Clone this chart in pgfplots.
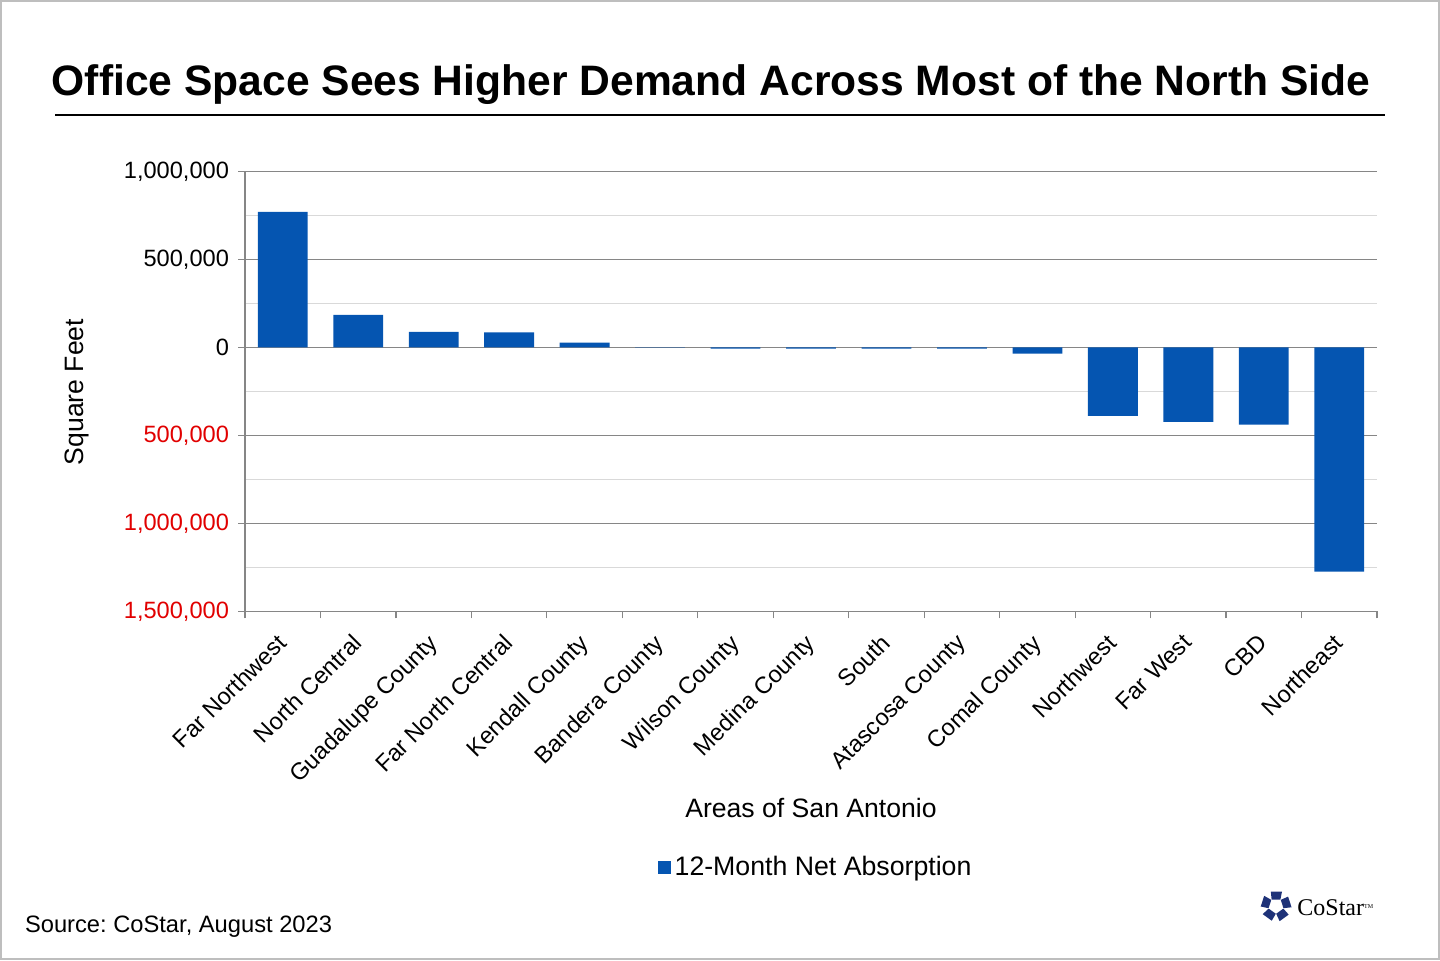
\documentclass[border=0pt]{standalone}
\usepackage{pgfplots}
\pgfplotsset{compat=1.18}
\usepackage{fontspec}
\setmainfont{Liberation Sans}
\newfontfamily\seriff{Liberation Serif}
\definecolor{barblue}{RGB}{5,85,177}
\definecolor{tickred}{RGB}{225,0,0}
\definecolor{axgray}{RGB}{134,134,134}
\definecolor{mingray}{RGB}{217,217,217}
\definecolor{logoblue}{RGB}{30,50,120}
\pgfplotstableread{
x y
0 769000
1 184000
2 87000
3 85000
4 26000
5 -2000
6 -8000
7 -8000
8 -8000
9 -8000
10 -36000
11 -389000
12 -424000
13 -440000
14 -1275000
}\datatable
\frenchspacing
\begin{document}
\begin{tikzpicture}[x=1pt,y=1pt]
\path[use as bounding box] (0,0) rectangle (720,480);
\draw[mingray!70!gray, line width=1pt] (0.5,0.5) rectangle (719.5,479.5);
\node[font=\fontsize{21.3}{25}\selectfont\bfseries] at (355.5,437.5) {Office Space Sees Higher Demand Across Most of the North Side};
\draw[line width=1pt] (27.5,422.5) -- (692.5,422.5);
\begin{axis}[
  at={(122.5pt,174.35pt)}, anchor=south west,
  scale only axis, width=566pt, height=220pt,
  xmin=-0.5, xmax=14.5, ymin=-1500000, ymax=1000000,
  axis lines=left,
  axis line style={-, axgray, line width=0.6pt},
  tick align=outside,
  ytick={-1500000,-1000000,-500000,0,500000,1000000},
  yticklabels={{\textcolor{tickred}{1,500,000}},{\textcolor{tickred}{1,000,000}},{\textcolor{tickred}{500,000}},{0},{500,000},{1,000,000}},
  minor ytick={-1250000,-750000,-250000,250000,750000},
  ymajorgrids, yminorgrids,
  major grid style={axgray, line width=0.5pt},
  minor grid style={mingray, line width=0.5pt},
  major tick length=3.5pt,
  minor tick length=3.5pt,
  tick style={axgray, line width=0.6pt},
  minor y tick style={draw=none},
  xtick={0,...,14},
  major x tick style={draw=none},
  minor xtick={-0.5,0.5,...,14.5},
  xticklabels={Far Northwest,North Central,Guadalupe County,Far North Central,Kendall County,Bandera County,Wilson County,Medina County,South,Atascosa County,Comal County,Northwest,Far West,CBD,Northeast},
  ticklabel style={font=\fontsize{11.8}{14}\selectfont},
  xticklabel style={rotate=45, anchor=north east, inner sep=1pt, xshift=-6.4pt, yshift=-1.4pt},
  yticklabel style={xshift=-1pt},
  scaled y ticks=false,
  legend style={at={(0.505,-0.583)}, anchor=center, draw=none, font=\fontsize{13.35}{15}\selectfont, inner sep=0pt},
  legend image code/.code={\fill[barblue] (-1.5pt,-3.2pt) rectangle (4.9pt,3.2pt);},
]
\addplot[ybar, bar width=0.66, fill=barblue, draw=none] table[x=x,y=y] {\datatable};
\addlegendentry{12-Month Net Absorption}
\end{axis}
\node[rotate=90, font=\fontsize{13.3}{15}\selectfont] at (38.5,284) {Square Feet};
\node[font=\fontsize{13.3}{15}\selectfont] at (405.5,76) {Areas of San Antonio};
\node[anchor=west, font=\fontsize{11.85}{14}\selectfont] at (9,16.5) {Source: CoStar, August 2023};
\begin{scope}[shift={(638,27)}]
\foreach \a in {90,162,234,306,18} {
  \fill[logoblue, rotate=\a] (3.2,-2.2) -- (7.2,-3.0) -- (7.2,2.6) -- (3.2,2.2) -- cycle;
}
\end{scope}
\node[anchor=west, font=\seriff\fontsize{12}{14}\selectfont, inner sep=0pt] at (648.5,26) {CoStar\raisebox{0.7ex}{\fontsize{3}{3}\selectfont TM}};
\end{tikzpicture}
\end{document}
